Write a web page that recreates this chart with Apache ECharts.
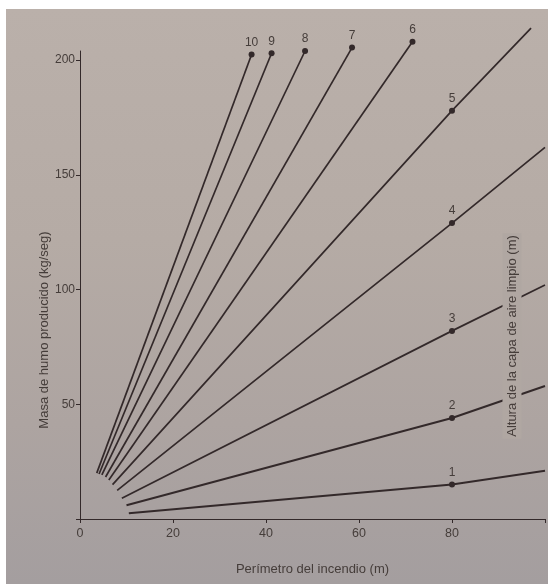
<!DOCTYPE html>
<html>
<head>
<meta charset="utf-8">
<script src="https://cdn.jsdelivr.net/npm/echarts@6/dist/echarts.min.js"></script>
<style>
  html, body { margin: 0; padding: 0; background: #ffffff; }
  #paper { position: absolute; left: 6px; top: 9px; right: 0; bottom: 0;
    background: linear-gradient(180deg, #bab0aa 0%, #b5aba5 40%, #ada4a1 72%, #a49e9f 100%); }
  #chart { position: absolute; left: 0; top: 0; width: 548px; height: 584px; }
</style>
</head>
<body>
<div id="paper"></div>
<div id="chart"></div>
<script>
// Curve names (height of clean-air layer, m)
const lineNames = ['1', '2', '3', '4', '5', '6', '7', '8', '9', '10'];
// Start points near origin
const startX = [10.5, 10, 9, 8, 7, 6.2, 5.5, 4.7, 4.1, 3.6];
const startY = [2.5, 6, 9, 12.5, 15, 17, 18.3, 19.2, 19.6, 20];
// Labelled dots
const dotX = [80, 80, 80, 80, 80, 71.5, 58.5, 48.4, 41.2, 36.9];
const dotY = [15, 44, 82, 129, 178, 208, 205.5, 204, 203, 202.5];
// Continuation beyond the dot (null = line ends at dot)
const endX = [100, 100, 100, 100, 97, null, null, null, null, null];
const endY = [21, 58, 102, 162, 214, null, null, null, null, null];
// Axis ticks
const xTicks = [0, 20, 40, 60, 80];
const yTicks = [50, 100, 150, 200];

const ink = '#33292a';
const txt = '#453d3a';
const font = 'Liberation Sans';

const series = lineNames.map((name, i) => {
  const data = [
    { value: [startX[i], startY[i]], symbol: 'none' },
    { value: [dotX[i], dotY[i]], symbol: 'circle', symbolSize: 6,
      label: { show: true, formatter: name, position: 'top', distance: 3,
               color: txt, fontSize: 12, fontFamily: font } }
  ];
  if (endX[i] !== null) data.push({ value: [endX[i], endY[i]], symbol: 'none' });
  return {
    type: 'line', name: name, data: data, clip: false, z: 3,
    showSymbol: true, showAllSymbol: true,
    lineStyle: { color: ink, width: i < 2 ? 2 : 1.7 },
    itemStyle: { color: ink },
    emphasis: { disabled: true }, silent: true
  };
});

const chart = echarts.init(document.getElementById('chart'), null, { renderer: 'canvas' });
chart.setOption({
  animation: false,
  backgroundColor: 'transparent',
  grid: { left: 80, right: 0, top: 51, bottom: 65, containLabel: false },
  xAxis: {
    type: 'value', min: 0, max: 100, interval: 20,
    axisLine: { show: true, onZero: false, lineStyle: { color: ink, width: 1 } },
    axisTick: { show: true, length: 4, lineStyle: { color: ink } },
    splitLine: { show: false },
    axisLabel: { margin: 8, color: txt, fontSize: 12.5, fontFamily: font,
      formatter: v => xTicks.indexOf(v) >= 0 ? String(v) : '' },
    name: 'Perímetro del incendio (m)', nameLocation: 'middle', nameGap: 44,
    nameTextStyle: { color: txt, fontSize: 13, fontFamily: font }
  },
  yAxis: {
    type: 'value', min: 0, max: 204, interval: 50,
    axisLine: { show: true, onZero: false, lineStyle: { color: ink, width: 1 } },
    axisTick: { show: true, length: 4, lineStyle: { color: ink } },
    splitLine: { show: false },
    axisLabel: { margin: 5, color: txt, fontSize: 12, fontFamily: font,
      showMaxLabel: false,
      formatter: v => yTicks.indexOf(v) >= 0 ? String(v) : '' }
  },
  graphic: [
    { type: 'text', x: 44, y: 330, rotation: Math.PI / 2, z: 100,
      style: { text: 'Masa de humo producido (kg/seg)', fill: txt, fontSize: 13, fontFamily: font,
               textAlign: 'center', textVerticalAlign: 'middle' } },
    { type: 'text', x: 512, y: 336, rotation: Math.PI / 2, z: 100,
      style: { text: 'Altura de la capa de aire limpio (m)', fill: txt, fontSize: 13, fontFamily: font,
               textAlign: 'center', textVerticalAlign: 'middle',
               backgroundColor: '#b0a7a2', padding: [3, 2] } }
  ],
  series: series
});
</script>
</body>
</html>
